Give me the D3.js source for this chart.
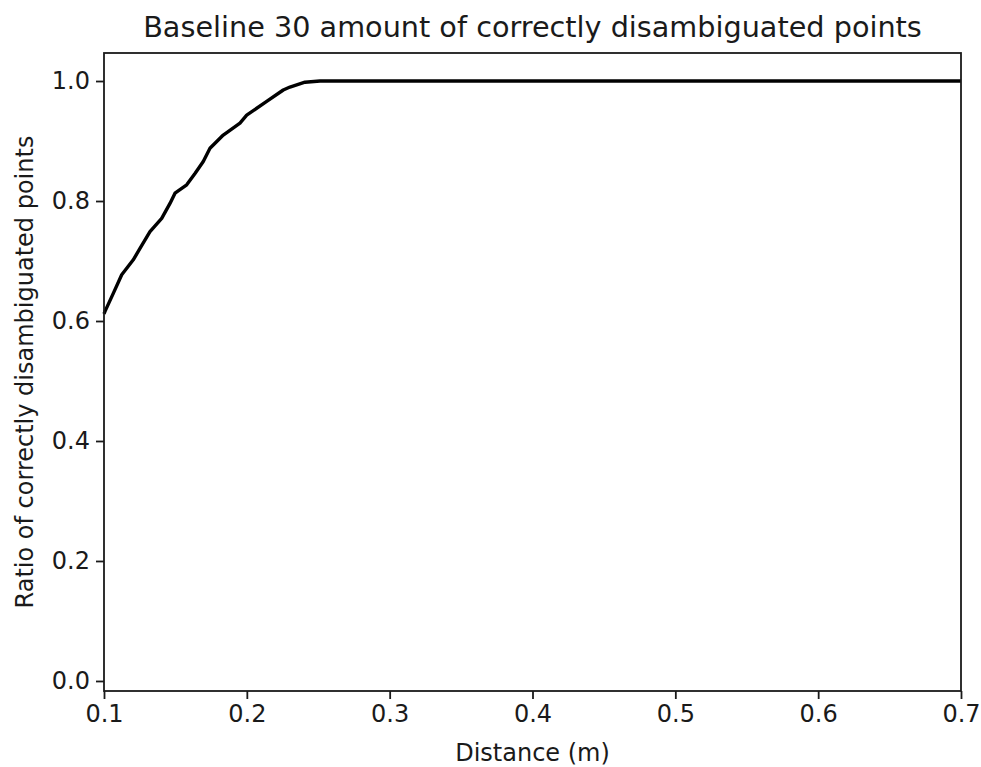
<html>
<head>
    <meta charset="UTF-8" />
    <title>Baseline 30</title>
    <script src="https://d3js.org/d3.v7.min.js"></script>
    <style>
        body { margin: 0; background: white; }
        text { font-family: "DejaVu Sans", sans-serif; fill: #1a1a1a; }
    </style>
</head>
<body>
    <svg id="chart" width="981" height="767"></svg>
    <script>
        // distance (m) and ratio
        const distances = [0.1, 0.1007, 0.1065, 0.1124, 0.1205, 0.1252, 0.1322, 0.1404, 0.1462, 0.1497,
                           0.1579, 0.1637, 0.1695, 0.1742, 0.1835, 0.1952, 0.1999, 0.2139, 0.2255,
                           0.2302, 0.2407, 0.2512, 0.7];
        const ratios = [0.612, 0.616, 0.646, 0.677, 0.702, 0.721, 0.749, 0.771, 0.796, 0.813,
                        0.827, 0.846, 0.866, 0.888, 0.91, 0.93, 0.943, 0.966, 0.985,
                        0.99, 0.998, 1.0, 1.0];
        const xTicks = [0.1, 0.2, 0.3, 0.4, 0.5, 0.6, 0.7];
        const yTicks = [0.0, 0.2, 0.4, 0.6, 0.8, 1.0];

        let svg = d3.select("svg#chart");
        const margin = {top: 53, right: 20, bottom: 76, left: 104};
        const chartWidth = 981 - margin.left - margin.right;
        const chartHeight = 767 - margin.top - margin.bottom;

        const x = d3.scaleLinear().domain([0.1, 0.7]).range([0, chartWidth]);
        const y = d3.scaleLinear().domain([-0.0167, 1.0467]).range([chartHeight, 0]);

        let chartArea = svg.append("g")
            .attr("transform", `translate(${margin.left},${margin.top})`);

        // the curve
        let points = distances.map((d, i) => [d, ratios[i]]);
        chartArea.append("path")
            .datum(points)
            .attr("d", d3.line().x(d => x(d[0])).y(d => y(d[1])))
            .attr("fill", "none")
            .attr("stroke", "black")
            .attr("stroke-width", 3.4)
            .attr("stroke-linejoin", "round");

        // axes
        let xAxis = chartArea.append("g")
            .attr("transform", `translate(0,${chartHeight})`)
            .call(d3.axisBottom(x).tickValues(xTicks).tickFormat(d3.format(".1f")).tickSize(8).tickPadding(6));
        let yAxis = chartArea.append("g")
            .call(d3.axisLeft(y).tickValues(yTicks).tickFormat(d3.format(".1f")).tickSize(8).tickPadding(6));
        [xAxis, yAxis].forEach(a => {
            a.select(".domain").remove();
            a.selectAll(".tick line").attr("stroke", "#1a1a1a").attr("stroke-width", 1.8);
            a.selectAll(".tick text").attr("font-size", "24px").attr("font-family", "DejaVu Sans").attr("fill", "#1a1a1a");
        });

        // frame
        chartArea.append("rect")
            .attr("width", chartWidth)
            .attr("height", chartHeight)
            .attr("fill", "none")
            .attr("stroke", "#1a1a1a")
            .attr("stroke-width", 1.8);

        // title and labels
        svg.append("text")
            .attr("x", margin.left + chartWidth / 2)
            .attr("y", 37)
            .attr("text-anchor", "middle")
            .attr("font-size", "28.7px")
            .text("Baseline 30 amount of correctly disambiguated points");

        svg.append("text")
            .attr("x", margin.left + chartWidth / 2)
            .attr("y", 761)
            .attr("text-anchor", "middle")
            .attr("font-size", "24px")
            .text("Distance (m)");

        svg.append("text")
            .attr("transform", `translate(33,${margin.top + chartHeight / 2}) rotate(-90)`)
            .attr("text-anchor", "middle")
            .attr("font-size", "24px")
            .text("Ratio of correctly disambiguated points");
    </script>
</body>
</html>
